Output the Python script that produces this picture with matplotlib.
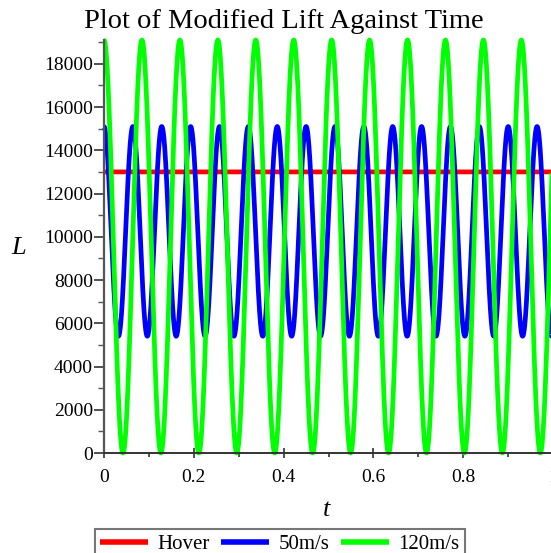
import numpy as np
import matplotlib
matplotlib.use("Agg")
import matplotlib.pyplot as plt
from matplotlib.ticker import MultipleLocator

plt.rcParams['font.family'] = ['Liberation Serif', 'DejaVu Serif']
plt.rcParams['mathtext.fontset'] = 'custom'
plt.rcParams['mathtext.it'] = 'Liberation Serif:italic'

# series settings: name, colour, peak lift, trough lift, period (s)
series_names = ["Hover", "50m/s", "120m/s"]
series_colors = ["#ff0000", "#0000ff", "#00ff00"]
lift_max = [13000, 15100, 19100]
lift_min = [13000, 5400, 0]
periods = [None, 0.0643, 0.0845]

t_start, t_end = 0.0, 1.0
y_max = 19100

t = np.linspace(t_start, t_end, 3000)


def lift_curve(lmax, lmin, period):
    """Lift oscillating once per period, peaking at t = 0."""
    if period is None:
        return np.full_like(t, lmax, dtype=float)
    mean = (lmax + lmin) / 2
    amp = (lmax - lmin) / 2
    return mean + amp * np.cos(2 * np.pi * t / period)


fig = plt.figure(figsize=(5.51, 5.53), dpi=100)
ax = fig.add_axes([104 / 551, 1 - 453 / 553, 449 / 551, 413 / 553])

handles = []
for name, col, lmax, lmin, per in zip(series_names, series_colors, lift_max, lift_min, periods):
    h, = ax.plot(t, lift_curve(lmax, lmin, per), color=col, lw=3.4,
                 label=name, clip_on=False, zorder=3, solid_capstyle='butt')
    handles.append(h)

ax.set_xlim(t_start, t_end)
ax.set_ylim(0, y_max)

ax.spines['top'].set_visible(False)
ax.spines['right'].set_visible(False)
ax.spines['left'].set_color('#555555')
ax.spines['left'].set_linewidth(1.6)
ax.spines['bottom'].set_color('#333333')
ax.spines['bottom'].set_linewidth(1.4)
ax.spines['left'].set_zorder(4)
ax.spines['bottom'].set_zorder(4)

ax.xaxis.set_major_locator(MultipleLocator(0.2))
ax.xaxis.set_minor_locator(MultipleLocator(0.1))
ax.yaxis.set_major_locator(MultipleLocator(2000))
ax.yaxis.set_minor_locator(MultipleLocator(1000))
ax.xaxis.set_major_formatter(lambda v, pos: "0" if abs(v) < 1e-9 else ("1" if abs(v - 1) < 1e-9 else f"{v:.1f}"))

ax.tick_params(axis='y', which='major', direction='out', length=7, width=1.2,
               labelsize=14, pad=1, color='#333333')
ax.tick_params(axis='y', which='minor', direction='out', length=4, width=1.0, color='#555555')
ax.tick_params(axis='x', which='major', direction='inout', length=7, width=1.2,
               labelsize=14, pad=8, color='#333333')
ax.tick_params(axis='x', which='minor', direction='out', length=3, width=1.2, color='#333333')

fig.text(19 / 551, 1 - 248 / 553, "$L$", fontsize=19, ha='center', va='center')
fig.text(327 / 551, 1 - 510 / 553, "$t$", fontsize=19, ha='center', va='center')
fig.text(284 / 551, 1 - 21 / 553, "Plot of Modified Lift Against Time",
         fontsize=20.5, ha='center', va='center')

leg = fig.legend(handles=handles, loc='upper left', bbox_to_anchor=(95 / 551, 1 - 529 / 553),
                 ncol=3, fontsize=15, frameon=True, fancybox=False,
                 handlelength=2.3, handletextpad=0.45, columnspacing=0.55,
                 borderpad=0.25, borderaxespad=0)
leg.get_frame().set_edgecolor('#555555')
leg.get_frame().set_linewidth(1.5)
for line in leg.get_lines():
    line.set_linewidth(4)

fig.savefig("out.png", dpi=100)
